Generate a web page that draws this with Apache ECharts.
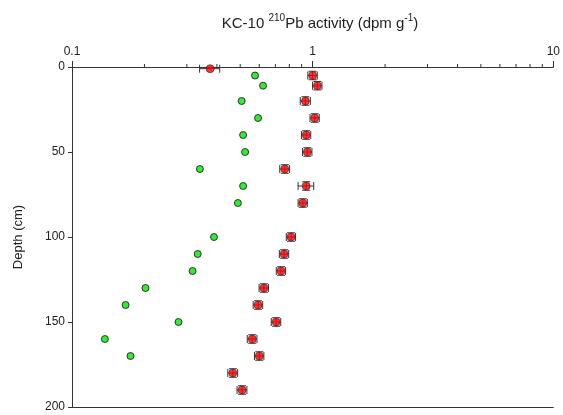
<!DOCTYPE html>
<html>
<head>
<meta charset="utf-8">
<script src="https://cdn.jsdelivr.net/npm/echarts@6/dist/echarts.min.js"></script>
<style>
    html, body {margin: 0; padding: 0; background: #fff;}
    #chart {width: 563px; height: 415px;}
</style>
</head>
<body>
<div id="chart"></div>
<script>
/*
 * 数据
 * */
var redDepth = [1, 5, 11, 20, 30, 40, 50, 60, 70, 80, 100, 110, 120, 130, 140, 150, 160, 170, 180, 190];
var redActivity = [0.375, 1.0, 1.046, 0.933, 1.02, 0.94, 0.95, 0.766, 0.94, 0.91, 0.813, 0.761, 0.739, 0.627, 0.593, 0.705, 0.561, 0.600, 0.466, 0.509];
var redError = [0.036, 0.045, 0.047, 0.045, 0.045, 0.042, 0.043, 0.036, 0.07, 0.04, 0.036, 0.034, 0.033, 0.028, 0.027, 0.032, 0.026, 0.027, 0.022, 0.024];
var redDepthError = [0, 2.5, 2.5, 2.5, 2.5, 2.5, 2.5, 2.5, 2.5, 2.5, 2.5, 2.5, 2.5, 2.5, 2.5, 2.5, 2.5, 2.5, 2.5, 2.5];

var greenDepth = [5, 11, 20, 30, 40, 50, 60, 70, 80, 100, 110, 120, 130, 140, 150, 160, 170];
var greenActivity = [0.576, 0.622, 0.507, 0.593, 0.514, 0.524, 0.340, 0.514, 0.489, 0.389, 0.333, 0.317, 0.202, 0.167, 0.277, 0.137, 0.175];

var xTickLabels = [0.1, 1, 10];
var minorTicks = [0.2, 0.3, 0.4, 0.5, 0.6, 0.7, 0.8, 0.9, 2, 3, 4, 5, 6, 7, 8, 9];

var font = 'Liberation Sans, Arial, sans-serif';
var axisColor = '#333';

var redData = [];
for (var i = 0; i < redDepth.length; i++) {
    redData.push([redActivity[i], redDepth[i], redError[i], redDepthError[i]]);
}
var greenData = [];
for (var i = 0; i < greenDepth.length; i++) {
    greenData.push([greenActivity[i], greenDepth[i]]);
}

// 误差棒
function renderError(params, api) {
    var v = api.value(0), d = api.value(1), e = api.value(2), de = api.value(3);
    var left = api.coord([v - e, d]);
    var right = api.coord([v + e, d]);
    var c = api.coord([v, d]);
    var cap = 4;
    var style = {stroke: axisColor, lineWidth: 1};
    var children = [
        {type: 'line', shape: {x1: left[0], y1: c[1], x2: right[0], y2: c[1]}, style: style},
        {type: 'line', shape: {x1: left[0], y1: c[1] - cap, x2: left[0], y2: c[1] + cap}, style: style},
        {type: 'line', shape: {x1: right[0], y1: c[1] - cap, x2: right[0], y2: c[1] + cap}, style: style}
    ];
    if (de > 0) {
        var top = api.coord([v, d - de]);
        var bot = api.coord([v, d + de]);
        children.push(
            {type: 'line', shape: {x1: c[0], y1: top[1], x2: c[0], y2: bot[1]}, style: style},
            {type: 'line', shape: {x1: c[0] - cap, y1: top[1], x2: c[0] + cap, y2: top[1]}, style: style},
            {type: 'line', shape: {x1: c[0] - cap, y1: bot[1], x2: c[0] + cap, y2: bot[1]}, style: style}
        );
    }
    return {type: 'group', children: children};
}

// 对数坐标的次刻度
function renderMinorTick(params, api) {
    var p = api.coord([api.value(0), 0]);
    return {
        type: 'line',
        shape: {x1: p[0], y1: p[1], x2: p[0], y2: p[1] - 3},
        style: {stroke: axisColor, lineWidth: 1}
    };
}

var chart = echarts.init(document.getElementById('chart'));

var option = {
    backgroundColor: '#fff',
    animation: false,
    title: {
        text: '{a|KC-10 }{s|210}{a|Pb activity (dpm g}{s|-1}{a|)}',
        left: 315,
        top: 8,
        textAlign: 'center',
        textStyle: {
            fontWeight: 'normal',
            rich: {
                a: {fontFamily: font, fontSize: 15, fontWeight: 'normal', color: '#222', lineHeight: 18, verticalAlign: 'bottom'},
                s: {fontFamily: font, fontSize: 10, fontWeight: 'normal', color: '#222', lineHeight: 11, verticalAlign: 'top'}
            }
        }
    },
    grid: {left: 72, right: 5, top: 67, bottom: 8, containLabel: false},
    xAxis: [
        {
            type: 'log',
            logBase: 10,
            position: 'top',
            min: 0.1,
            max: 10,
            axisLine: {show: true, lineStyle: {color: axisColor}},
            axisTick: {show: true, inside: false, length: 6, lineStyle: {color: axisColor}},
            axisLabel: {
                color: '#222', fontFamily: font, fontSize: 12, margin: 9,
                formatter: function (v) { return xTickLabels.indexOf(Number(v.toPrecision(3))) >= 0 ? String(Number(v.toPrecision(3))) : ''; }
            },
            splitLine: {show: false}
        },
        {
            type: 'log',
            logBase: 10,
            position: 'bottom',
            min: 0.1,
            max: 10,
            axisLine: {show: true, lineStyle: {color: axisColor}},
            axisTick: {show: false},
            axisLabel: {show: false},
            splitLine: {show: false}
        }
    ],
    yAxis: {
        type: 'value',
        inverse: true,
        min: 0,
        max: 200,
        interval: 50,
        name: 'Depth (cm)',
        nameLocation: 'middle',
        nameGap: 47,
        nameTextStyle: {color: '#222', fontFamily: font, fontSize: 13},
        axisLine: {show: true, lineStyle: {color: axisColor}},
        axisTick: {show: true, length: 4, lineStyle: {color: axisColor}},
        axisLabel: {color: '#222', fontFamily: font, fontSize: 12, margin: 7},
        splitLine: {show: false}
    },
    series: [
        {
            type: 'custom',
            xAxisIndex: 0,
            renderItem: renderMinorTick,
            data: minorTicks.map(function (v) { return [v]; }),
            encode: {x: 0},
            clip: false,
            silent: true
        },
        {
            type: 'scatter',
            xAxisIndex: 0,
            data: greenData,
            symbol: 'circle',
            symbolSize: 7,
            itemStyle: {color: '#00e600', borderColor: '#111', borderWidth: 1},
            z: 3
        },
        {
            type: 'custom',
            xAxisIndex: 0,
            renderItem: renderError,
            data: redData,
            encode: {x: 0, y: 1},
            z: 4,
            silent: true
        },
        {
            type: 'scatter',
            xAxisIndex: 0,
            data: redData,
            encode: {x: 0, y: 1},
            symbol: 'circle',
            symbolSize: 8,
            itemStyle: {color: '#ff0000', borderColor: '#333', borderWidth: 0.8},
            z: 5
        }
    ]
};
chart.setOption(option);
</script>
</body>
</html>
